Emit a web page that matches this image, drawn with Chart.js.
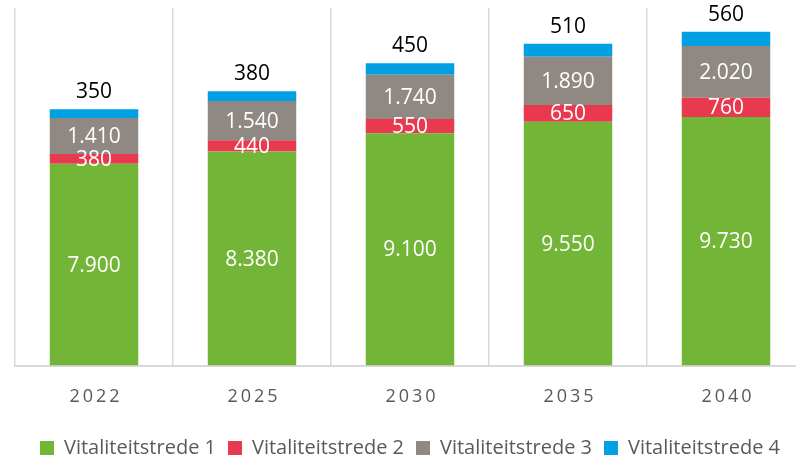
<!DOCTYPE html>
<html>
<head>
<meta charset="utf-8">
<script src="https://cdn.jsdelivr.net/npm/chart.js@4"></script>
<style>
  html, body { margin: 0; padding: 0; background: #fff; }
  #wrap { width: 796px; height: 457px; overflow: hidden; }
</style>
</head>
<body>
<div id="wrap"><canvas id="chart" width="810" height="468"></canvas></div>
<script>
const years = ["2022", "2025", "2030", "2035", "2040"];
const trede1 = [7900, 8380, 9100, 9550, 9730];
const trede2 = [380, 440, 550, 650, 760];
const trede3 = [1410, 1540, 1740, 1890, 2020];
const trede4 = [350, 380, 450, 510, 560];

const FONT = "'Open Sans', sans-serif";

// 7900 -> 7.900
const fmt = v => String(v).replace(/\B(?=(\d{3})+(?!\d))/g, ".");

// value labels in the bars, top series above the bar
const barLabels = {
  id: "barLabels",
  afterDatasetsDraw(chart) {
    const ctx = chart.ctx;
    ctx.save();
    ctx.font = "21px " + FONT;
    ctx.textAlign = "center";
    ctx.textBaseline = "middle";
    chart.data.datasets.forEach((ds, di) => {
      chart.getDatasetMeta(di).data.forEach((bar, i) => {
        if (di === 3) {
          ctx.fillStyle = "#000";
          ctx.fillText(fmt(ds.data[i]), bar.x, bar.y - 17);
        } else {
          ctx.fillStyle = "#fff";
          ctx.fillText(fmt(ds.data[i]), bar.x, (bar.y + bar.base) / 2 + 1);
        }
      });
    });
    ctx.restore();
  },
  // spaced-out year labels under the axis
  afterDraw(chart) {
    const ctx = chart.ctx;
    const x = chart.scales.x;
    ctx.save();
    ctx.font = "18px " + FONT;
    ctx.letterSpacing = "3px";
    ctx.fillStyle = "#595959";
    ctx.textAlign = "center";
    ctx.textBaseline = "middle";
    years.forEach((y, i) => {
      ctx.fillText(y, x.getPixelForTick(i) + 2, x.top + 31);
    });
    ctx.restore();
  }
};

new Chart(document.getElementById("chart"), {
  type: "bar",
  data: {
    labels: years,
    datasets: [
      { label: "Vitaliteitstrede 1", data: trede1, backgroundColor: "#72b537" },
      { label: "Vitaliteitstrede 2", data: trede2, backgroundColor: "#e8394f" },
      { label: "Vitaliteitstrede 3", data: trede3, backgroundColor: "#8f8883" },
      { label: "Vitaliteitstrede 4", data: trede4, backgroundColor: "#00a0e2" }
    ]
  },
  options: {
    responsive: false,
    animation: false,
    layout: { padding: { left: 15, right: 5, top: 8, bottom: 0 } },
    datasets: { bar: { categoryPercentage: 1, barPercentage: 0.56, borderWidth: 0 } },
    scales: {
      x: {
        stacked: true,
        grid: { offset: true, color: "#d9d9d9", lineWidth: 1.5, drawTicks: false },
        border: { color: "#d9d9d9", width: 2 },
        ticks: { color: "transparent", font: { family: FONT, size: 17 }, padding: 20 }
      },
      y: {
        stacked: true,
        display: false,
        min: 0,
        max: 14000
      }
    },
    plugins: {
      legend: {
        position: "bottom",
        labels: {
          color: "#595959",
          font: { family: FONT, size: 20 },
          boxWidth: 14,
          boxHeight: 14,
          padding: 12
        }
      },
      tooltip: { enabled: false }
    }
  },
  plugins: [barLabels]
});
</script>
</body>
</html>
